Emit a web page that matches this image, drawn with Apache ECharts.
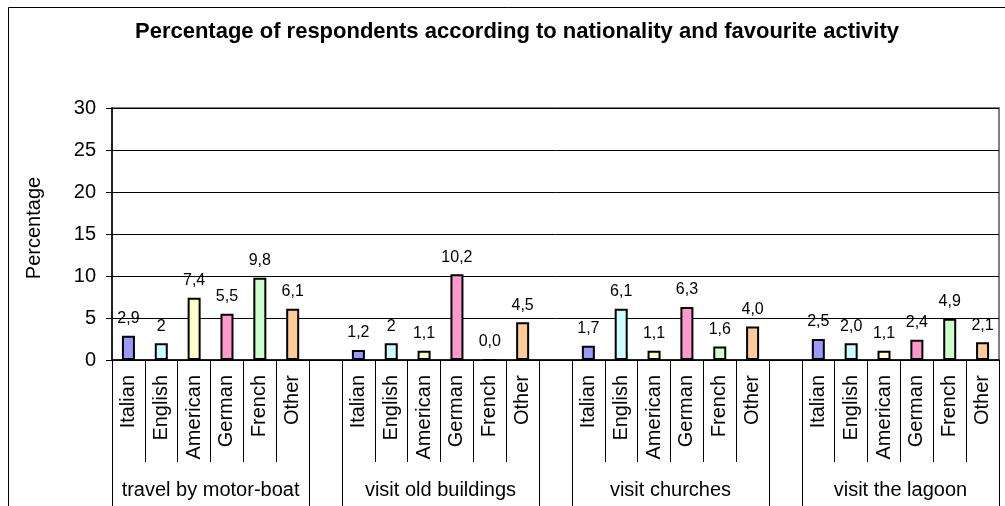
<!DOCTYPE html>
<html>
<head>
<meta charset="utf-8">
<title>Percentage of respondents</title>
<script src="https://cdn.jsdelivr.net/npm/echarts@6/dist/echarts.min.js"></script>
<style>
  html, body { margin: 0; padding: 0; background: #fff; }
  #chart { width: 1005px; height: 506px; }
</style>
</head>
<body>
<div id="chart"></div>
<script>
// Survey results: share of respondents (%) by nationality for each favourite activity.
const nationalities = ['Italian', 'English', 'American', 'German', 'French', 'Other'];
const activities = ['travel by motor-boat', 'visit old buildings', 'visit churches', 'visit the lagoon'];

// Values as printed on the bars (decimal comma kept for the labels).
const motorBoat    = ['2,9', '2',   '7,4', '5,5',  '9,8', '6,1'];
const oldBuildings = ['1,2', '2',   '1,1', '10,2', '0,0', '4,5'];
const churches     = ['1,7', '6,1', '1,1', '6,3',  '1,6', '4,0'];
const lagoon       = ['2,5', '2,0', '1,1', '2,4',  '4,9', '2,1'];

const yTicks = { min: 0, max: 30, interval: 5 };
const nationalityColors = ['#9999FF', '#CCFFFF', '#FFFFCC', '#FF99CC', '#CCFFCC', '#FFCC99'];

const groups = [motorBoat, oldBuildings, churches, lagoon];
const toNumber = s => parseFloat(s.replace(',', '.'));

// Flatten into one category axis: six bars per activity, one empty slot between activities.
const categories = [];
const barData = [];
const groupEdges = [0];
const groupCentres = [];
groups.forEach((vals, g) => {
  if (g > 0) {
    categories.push('');
    barData.push({ value: null });
    groupEdges.push(categories.length);
  }
  const start = categories.length;
  vals.forEach((txt, i) => {
    categories.push(nationalities[i]);
    barData.push({
      value: toNumber(txt),
      text: txt,
      itemStyle: { color: nationalityColors[i] }
    });
  });
  groupEdges.push(categories.length);
  groupCentres.push((start + categories.length) / 2);
});
const slotCount = categories.length;

const chart = echarts.init(document.getElementById('chart'), null, { renderer: 'canvas' });
const font = 'Liberation Sans, Arial, sans-serif';

chart.setOption({
  animation: false,
  backgroundColor: '#fff',
  textStyle: { fontFamily: font },
  title: {
    text: 'Percentage of respondents according to nationality and favourite activity',
    left: 512,
    top: 16,
    textAlign: 'center',
    textStyle: { fontFamily: font, fontSize: 22, fontWeight: 'bold', color: '#000' }
  },
  graphic: [{
    type: 'rect',
    z: -1,
    shape: { x: 8.5, y: 7.5, width: 1010, height: 520 },
    style: { fill: 'none', stroke: '#000', lineWidth: 1 }
  }],
  grid: {
    left: 112, right: 6, top: 108, bottom: 146,
    show: true, borderColor: '#808080', borderWidth: 2, backgroundColor: 'transparent'
  },
  xAxis: [{
    type: 'category',
    data: categories,
    boundaryGap: true,
    axisLine: { lineStyle: { color: '#000', width: 1.5 } },
    axisTick: { show: true, interval: 0, length: 102, lineStyle: { color: '#000', width: 1 } },
    axisLabel: {
      interval: 0, rotate: 90, margin: 15,
      fontSize: 20, color: '#000', fontFamily: font
    },
    splitLine: { show: false }
  }, {
    type: 'value',
    position: 'bottom',
    min: 0,
    max: slotCount,
    axisLine: { show: false },
    splitLine: { show: false },
    axisTick: {
      show: true, length: 160, customValues: groupEdges,
      lineStyle: { color: '#000', width: 1 }
    },
    axisLabel: {
      customValues: groupCentres,
      margin: 120,
      fontSize: 20, color: '#000', fontFamily: font,
      formatter: v => activities[groupCentres.indexOf(v)] || ''
    }
  }],
  yAxis: {
    type: 'value',
    min: yTicks.min, max: yTicks.max, interval: yTicks.interval,
    name: 'Percentage',
    nameLocation: 'middle',
    nameGap: 68,
    nameRotate: 90,
    nameTextStyle: { fontSize: 20, color: '#000', fontFamily: font, padding: [0, 0, 0, 12] },
    axisLine: { show: true, lineStyle: { color: '#000', width: 1.5 } },
    axisTick: { show: true, length: 6, lineStyle: { color: '#000' } },
    axisLabel: { fontSize: 20, color: '#000', margin: 16, fontFamily: font },
    splitLine: { show: true, lineStyle: { color: '#000', width: 1 } }
  },
  series: [{
    type: 'bar',
    xAxisIndex: 0,
    data: barData,
    barWidth: 13,
    itemStyle: { borderColor: '#000', borderWidth: 2 },
    label: {
      show: true,
      position: 'top',
      distance: 9,
      fontSize: 16,
      color: '#000',
      fontFamily: font,
      formatter: p => (p.data && p.data.text) || ''
    }
  }]
});
</script>
</body>
</html>
